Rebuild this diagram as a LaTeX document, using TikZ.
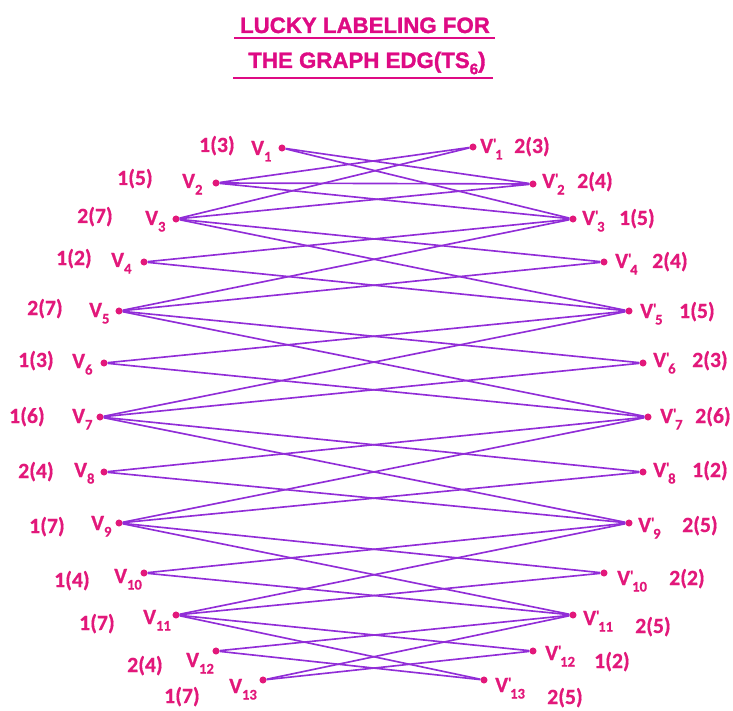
\documentclass[tikz,border=0pt]{standalone}
\usepackage{fontspec}
\setmainfont{Carlito}
\newfontfamily\lblfont[FakeBold=0.6]{Carlito}
\newfontfamily\titlefont[FakeBold=1.4]{Liberation Sans}
\definecolor{lblpink}{RGB}{226,24,122}
\definecolor{ttlpink}{RGB}{222,10,132}
\definecolor{edgeviolet}{RGB}{145,45,215}
\newcommand{\vx}[1]{V\raisebox{-0.3em}{\fontsize{12.5}{12}\selectfont #1}}
\newcommand{\vy}[1]{V\raisebox{0.2em}{\fontsize{12.5}{12}\selectfont '}\kern-0.06em\raisebox{-0.3em}{\fontsize{12.5}{12}\selectfont #1}}

\begin{document}
\begin{tikzpicture}[x=0.03cm,y=-0.03cm,
  dot/.style={circle,fill=lblpink,inner sep=0pt,minimum size=6pt},
  lbl/.style={text=lblpink,font=\lblfont\fontsize{18.5}{19}\selectfont\bfseries,inner sep=0pt,anchor=base west},
  ttl/.style={text=ttlpink,font=\titlefont\fontsize{19}{20}\selectfont\bfseries,inner sep=0pt,anchor=base},
  uline/.style={draw=ttlpink,line width=1.2pt},
  ln/.style={draw=edgeviolet,line width=1.4pt}]
\useasboundingbox (0,0) rectangle (733,711);

% title
\node[ttl] (T1) at (365,33) {LUCKY LABELING FOR};
\node[ttl] (T2) at (367,68) {THE GRAPH EDG(TS\raisebox{-0.28em}{\fontsize{13}{13}\selectfont 6})};
\draw[uline] (234,38) -- (495,38);
\draw[uline] (233,78) -- (493,78);

% left vertices
\node[dot] (L1) at (282,148) {};
\node[dot] (L2) at (216,183) {};
\node[dot] (L3) at (176,219) {};
\node[dot] (L4) at (144,262) {};
\node[dot] (L5) at (119,311) {};
\node[dot] (L6) at (104,363) {};
\node[dot] (L7) at (100,417) {};
\node[dot] (L8) at (104,472) {};
\node[dot] (L9) at (119,523) {};
\node[dot] (L10) at (144,573) {};
\node[dot] (L11) at (176,615) {};
\node[dot] (L12) at (216,651) {};
\node[dot] (L13) at (263,680) {};

% right vertices
\node[dot] (R1) at (473,147) {};
\node[dot] (R2) at (533,184) {};
\node[dot] (R3) at (573,219) {};
\node[dot] (R4) at (604,262) {};
\node[dot] (R5) at (629,311) {};
\node[dot] (R6) at (643,363) {};
\node[dot] (R7) at (648,417) {};
\node[dot] (R8) at (643,472) {};
\node[dot] (R9) at (629,523) {};
\node[dot] (R10) at (604,573) {};
\node[dot] (R11) at (573,615) {};
\node[dot] (R12) at (533,651) {};
\node[dot] (R13) at (484,680) {};

% left names and labels
\node[lbl] (LV1) at (251,155) {\vx{1}};
\node[lbl] (LV2) at (182,188) {\vx{2}};
\node[lbl] (LV3) at (145,225) {\vx{3}};
\node[lbl] (LV4) at (111,267) {\vx{4}};
\node[lbl] (LV5) at (89,317) {\vx{5}};
\node[lbl] (LV6) at (72,368) {\vx{6}};
\node[lbl] (LV7) at (72,423) {\vx{7}};
\node[lbl] (LV8) at (74,477) {\vx{8}};
\node[lbl] (LV9) at (91,530) {\vx{9}};
\node[lbl] (LV10) at (114,583) {\vx{10}};
\node[lbl] (LV11) at (143,624) {\vx{11}};
\node[lbl] (LV12) at (186,667) {\vx{12}};
\node[lbl] (LV13) at (229,693) {\vx{13}};

\node[lbl] (LN1) at (199,152) {1(3)};
\node[lbl] (LN2) at (117,185) {1(5)};
\node[lbl] (LN3) at (77,223) {2(7)};
\node[lbl] (LN4) at (56,265) {1(2)};
\node[lbl] (LN5) at (27,315) {2(7)};
\node[lbl] (LN6) at (18,367) {1(3)};
\node[lbl] (LN7) at (9,423) {1(6)};
\node[lbl] (LN8) at (18,478) {2(4)};
\node[lbl] (LN9) at (29,533) {1(7)};
\node[lbl] (LN10) at (54,587) {1(4)};
\node[lbl] (LN11) at (79,630) {1(7)};
\node[lbl] (LN12) at (127,672) {2(4)};
\node[lbl] (LN13) at (164,703) {1(7)};

% right names and labels
\node[lbl] (RV1) at (480,153) {\vy{1}};
\node[lbl] (RV2) at (542,188) {\vy{2}};
\node[lbl] (RV3) at (582,225) {\vy{3}};
\node[lbl] (RV4) at (615,268) {\vy{4}};
\node[lbl] (RV5) at (640,318) {\vy{5}};
\node[lbl] (RV6) at (653,367) {\vy{6}};
\node[lbl] (RV7) at (660,423) {\vy{7}};
\node[lbl] (RV8) at (653,477) {\vy{8}};
\node[lbl] (RV9) at (638,532) {\vy{9}};
\node[lbl] (RV10) at (617,585) {\vy{10}};
\node[lbl] (RV11) at (583,625) {\vy{11}};
\node[lbl] (RV12) at (545,660) {\vy{12}};
\node[lbl] (RV13) at (495,692) {\vy{13}};

\node[lbl] (RN1) at (514,153) {2(3)};
\node[lbl] (RN2) at (577,188) {2(4)};
\node[lbl] (RN3) at (619,225) {1(5)};
\node[lbl] (RN4) at (652,268) {2(4)};
\node[lbl] (RN5) at (679,318) {1(5)};
\node[lbl] (RN6) at (692,367) {2(3)};
\node[lbl] (RN7) at (695,423) {2(6)};
\node[lbl] (RN8) at (692,477) {1(2)};
\node[lbl] (RN9) at (682,532) {2(5)};
\node[lbl] (RN10) at (669,585) {2(2)};
\node[lbl] (RN11) at (635,633) {2(5)};
\node[lbl] (RN12) at (594,668) {1(2)};
\node[lbl] (RN13) at (547,704) {2(5)};

% edges
\path[ln] (L1) edge (R2) (L2) edge (R1) (L1) edge (R3) (L3) edge (R1);
\path[ln] (L2) edge (R3) (L3) edge (R2) (L2) edge (R2);
\path[ln] (L3) edge (R4) (L4) edge (R3) (L3) edge (R5) (L5) edge (R3);
\path[ln] (L4) edge (R5) (L5) edge (R4);
\path[ln] (L5) edge (R6) (L6) edge (R5) (L5) edge (R7) (L7) edge (R5);
\path[ln] (L6) edge (R7) (L7) edge (R6);
\path[ln] (L7) edge (R8) (L8) edge (R7) (L7) edge (R9) (L9) edge (R7);
\path[ln] (L8) edge (R9) (L9) edge (R8);
\path[ln] (L9) edge (R10) (L10) edge (R9) (L9) edge (R11) (L11) edge (R9);
\path[ln] (L10) edge (R11) (L11) edge (R10);
\path[ln] (L11) edge (R12) (L12) edge (R11) (L11) edge (R13) (L13) edge (R11);
\path[ln] (L12) edge (R13) (L13) edge (R12);
\end{tikzpicture}
\end{document}
